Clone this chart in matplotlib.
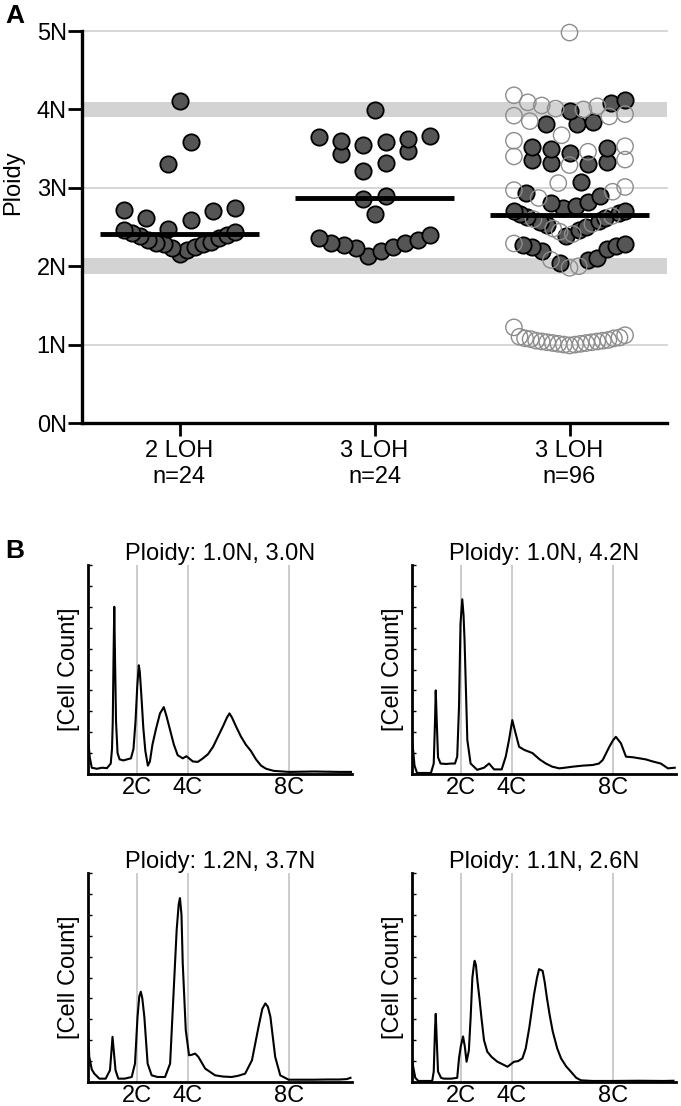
import numpy as np
import matplotlib
matplotlib.use("Agg")
import matplotlib.pyplot as plt

plt.rcParams['font.family'] = ['Liberation Sans', 'DejaVu Sans']

# ---- panel A data (ploidy per clone, grouped in rows of similar value) ----
categories = ['2 LOH\nn=24', '3 LOH\nn=24', '3 LOH\nn=96']
ytick_labels = ['0N', '1N', '2N', '3N', '4N', '5N']

loh2_rows = [
    [2.15, 2.21, 2.23, 2.25, 2.28, 2.28, 2.29, 2.31, 2.33, 2.36, 2.38, 2.40, 2.42, 2.44, 2.46],
    [2.48, 2.59, 2.62, 2.70, 2.72, 2.74],
    [3.30, 3.58],
    [4.11],
]
loh3_rows = [
    [2.13, 2.19, 2.23, 2.25, 2.27, 2.29, 2.30, 2.33, 2.36, 2.40],
    [2.67],
    [2.86, 2.89],
    [3.21, 3.31, 3.43, 3.47],
    [3.55, 3.59, 3.60, 3.62, 3.65, 3.66],
    [3.99],
]
# third group: filled and open symbols, same row order
loh3b_filled_rows = [
    [],
    [2.04, 2.08, 2.10, 2.19, 2.22, 2.24, 2.26, 2.27, 2.28],
    [2.38, 2.46, 2.50, 2.52, 2.56, 2.58, 2.61, 2.63, 2.66, 2.68, 2.70, 2.71],
    [2.74, 2.77, 2.80, 2.82, 2.90, 2.93],
    [3.07],
    [3.30, 3.32, 3.33, 3.36],
    [3.44, 3.50, 3.51, 3.52],
    [3.82, 3.82, 3.84],
    [3.98, 4.08, 4.12],
    [],
]
loh3b_open_rows = [
    [0.99, 1.00, 1.00, 1.01, 1.01, 1.02, 1.02, 1.03, 1.03, 1.04, 1.04,
     1.05, 1.05, 1.06, 1.07, 1.08, 1.08, 1.09, 1.10, 1.12, 1.22],
    [1.98, 2.00, 2.08, 2.29],
    [2.41, 2.44, 2.48, 2.54, 2.60, 2.64],
    [2.87, 2.95, 2.97, 3.01],
    [3.06],
    [3.29, 3.36, 3.40],
    [3.46, 3.53, 3.60],
    [3.67, 3.85, 3.91, 3.92, 3.94],
    [4.00, 4.01, 4.04, 4.05, 4.09, 4.18],
    [4.98],
]

# ---- panel B data (DNA content in C units vs relative cell count) ----
hist_titles = ['Ploidy: 1.0N, 3.0N', 'Ploidy: 1.0N, 4.2N',
               'Ploidy: 1.2N, 3.7N', 'Ploidy: 1.1N, 2.6N']
c_marks = [2, 4, 8]
c_labels = ['2C', '4C', '8C']

tl_c = [0.06, 0.12, 0.2, 0.4, 0.6, 0.8, 0.95, 1.0, 1.03, 1.06, 1.09, 1.12, 1.16, 1.22, 1.3,
        1.45, 1.6, 1.75, 1.85, 1.93, 2.0, 2.06, 2.1, 2.16, 2.24, 2.32, 2.42, 2.5, 2.6,
        2.75, 2.9, 3.0, 3.05, 3.15, 3.3, 3.45, 3.6, 3.8, 3.95, 4.05, 4.2, 4.4, 4.6, 4.8,
        5.0, 5.2, 5.4, 5.55, 5.65, 5.75, 5.9, 6.1, 6.3, 6.5, 6.7, 6.9, 7.1, 7.4, 8.0,
        9.0, 10.0, 10.5]
tl_y = [0.16, 0.08, 0.03, 0.025, 0.03, 0.028, 0.05, 0.12, 0.25, 0.55, 0.80, 0.55, 0.25, 0.10,
        0.07, 0.065, 0.07, 0.075, 0.12, 0.25, 0.42, 0.52, 0.49, 0.38, 0.22, 0.11, 0.04,
        0.06, 0.14, 0.22, 0.29, 0.31, 0.32, 0.28, 0.21, 0.14, 0.09, 0.075, 0.085, 0.075,
        0.06, 0.058, 0.075, 0.095, 0.13, 0.18, 0.23, 0.27, 0.29, 0.27, 0.23, 0.18, 0.14,
        0.11, 0.07, 0.04, 0.025, 0.015, 0.01, 0.012, 0.01, 0.01]

tr_c = [0.06, 0.15, 0.25, 0.5, 0.8, 0.91, 0.96, 0.99, 1.03, 1.08, 1.18, 1.4, 1.6, 1.75,
        1.84, 1.91, 1.97, 2.04, 2.09, 2.13, 2.24, 2.37, 2.63, 2.9, 3.1, 3.3, 3.6, 3.76,
        3.89, 4.02, 4.15, 4.29, 4.5, 4.82, 5.1, 5.35, 5.6, 5.88, 6.1, 6.41, 6.8, 7.2,
        7.45, 7.6, 7.86, 8.0, 8.12, 8.32, 8.52, 8.8, 9.05, 9.3, 9.58, 9.9, 10.18, 10.45]
tr_y = [0.16, 0.04, 0.005, 0.005, 0.005, 0.05, 0.25, 0.40, 0.25, 0.08, 0.05, 0.048, 0.05,
        0.05, 0.083, 0.32, 0.72, 0.836, 0.76, 0.64, 0.163, 0.05, 0.02, 0.03, 0.05, 0.022,
        0.022, 0.083, 0.163, 0.258, 0.195, 0.13, 0.115, 0.1, 0.07, 0.05, 0.035, 0.027,
        0.03, 0.035, 0.04, 0.043, 0.05, 0.067, 0.13, 0.16, 0.178, 0.147, 0.083, 0.08,
        0.075, 0.07, 0.06, 0.05, 0.027, 0.03]

bl_c = [0.06, 0.1, 0.2, 0.3, 0.5, 0.75, 0.92, 0.98, 1.02, 1.07, 1.14, 1.25, 1.5, 1.78,
        1.91, 2.01, 2.08, 2.14, 2.2, 2.28, 2.41, 2.57, 2.8, 3.1, 3.3, 3.43, 3.56, 3.64,
        3.69, 3.75, 3.8, 3.92, 4.05, 4.15, 4.29, 4.42, 4.69, 5.08, 5.4, 5.74, 6.0, 6.27,
        6.54, 6.8, 6.95, 7.07, 7.17, 7.27, 7.46, 7.66, 7.99, 8.5, 9.0, 9.5, 10.0, 10.3, 10.44]
bl_y = [0.232, 0.12, 0.06, 0.04, 0.016, 0.016, 0.056, 0.15, 0.216, 0.15, 0.056, 0.016,
        0.016, 0.024, 0.088, 0.312, 0.41, 0.432, 0.40, 0.312, 0.088, 0.032, 0.024, 0.024,
        0.088, 0.408, 0.728, 0.85, 0.88, 0.80, 0.568, 0.248, 0.128, 0.13, 0.136, 0.12,
        0.064, 0.032, 0.026, 0.024, 0.03, 0.04, 0.104, 0.264, 0.35, 0.376, 0.36, 0.312,
        0.12, 0.032, 0.011, 0.011, 0.011, 0.012, 0.012, 0.014, 0.02]

br_c = [0.06, 0.18, 0.3, 0.6, 0.85, 0.91, 0.96, 0.99, 1.03, 1.08, 1.2, 1.31, 1.6, 1.84,
        1.91, 1.98, 2.07, 2.14, 2.21, 2.3, 2.37, 2.44, 2.5, 2.53, 2.58, 2.64, 2.72, 2.8,
        2.9, 3.03, 3.2, 3.43, 3.63, 3.83, 4.09, 4.25, 4.42, 4.55, 4.69, 4.88, 5.0, 5.08,
        5.22, 5.3, 5.39, 5.5, 5.62, 5.8, 5.95, 6.15, 6.35, 6.55, 6.74, 7.2, 8.0, 9.0,
        10.0, 10.4]
br_y = [0.097, 0.02, 0.005, 0.005, 0.005, 0.05, 0.25, 0.326, 0.2, 0.05, 0.02, 0.016,
        0.016, 0.02, 0.113, 0.17, 0.218, 0.17, 0.097, 0.15, 0.306, 0.5, 0.56, 0.58, 0.56,
        0.484, 0.4, 0.306, 0.2, 0.145, 0.12, 0.097, 0.085, 0.073, 0.097, 0.1, 0.113, 0.16,
        0.258, 0.419, 0.5, 0.54, 0.532, 0.48, 0.403, 0.32, 0.242, 0.16, 0.113, 0.075,
        0.048, 0.02, 0.008, 0.005, 0.005, 0.006, 0.005, 0.006]


def row_offsets(n, max_width=0.57, step=0.115):
    # prism-like spreading: lowest value in the middle, then right, left, ...
    if n == 1:
        return np.zeros(1)
    s = min(step, max_width / (n - 1))
    k = []
    for i in range(n):
        if i == 0:
            k.append(0)
        elif i % 2 == 1:
            k.append((i + 1) // 2)
        else:
            k.append(-(i // 2))
    k = np.array(k, dtype=float)
    if n % 2 == 0:
        k -= 0.5
    return k * s


def layout(pos, filled_rows, open_rows):
    fx, fy, ox, oy, allv = [], [], [], [], []
    for fr, orow in zip(filled_rows, open_rows):
        vals = [(v, 1) for v in fr] + [(v, 0) for v in orow]
        vals.sort(key=lambda t: t[0])
        offs = row_offsets(len(vals))
        for (v, kind), d in zip(vals, offs):
            allv.append(v)
            if kind:
                fx.append(pos + d)
                fy.append(v)
            else:
                ox.append(pos + d)
                oy.append(v)
    return fx, fy, ox, oy, np.median(allv)


W, H = 681, 1106
fig = plt.figure(figsize=(W / 100, H / 100), dpi=100)

FS = 17
axA = fig.add_axes([82 / W, (H - 423) / H, (667 - 82) / W, (423 - 31) / H])
axA.set_xlim(-0.5, 2.5)
axA.set_ylim(0, 5)
for s in ['top', 'right']:
    axA.spines[s].set_visible(False)
for s in ['left', 'bottom']:
    axA.spines[s].set_linewidth(2.4)
    axA.spines[s].set_zorder(6)

axA.axhspan(3.9, 4.1, color='#d3d3d3', lw=0, zorder=0)
axA.axhspan(1.9, 2.1, color='#d3d3d3', lw=0, zorder=0)
for g in [1, 3, 5]:
    axA.axhline(g, color='#d3d3d3', lw=1.3, zorder=0.5, clip_on=False)

groups = [
    (loh2_rows, [[] for _ in loh2_rows]),
    (loh3_rows, [[] for _ in loh3_rows]),
    (loh3b_filled_rows, loh3b_open_rows),
]
for i, (frows, orows) in enumerate(groups):
    fx, fy, ox, oy, med = layout(i, frows, orows)
    axA.scatter(fx, fy, s=138, facecolor='#555555', edgecolor='black',
                linewidth=1.3, zorder=3, clip_on=False)
    if ox:
        axA.scatter(ox, oy, s=138, facecolor='none', edgecolor='#8c8c8c',
                    linewidth=1.0, zorder=4, clip_on=False)
    axA.hlines(med, i - 0.41, i + 0.41, color='black', lw=3.5, zorder=5)

axA.set_yticks(range(6))
axA.set_yticklabels(ytick_labels)
axA.set_xticks(range(3))
axA.set_xticklabels(categories, linespacing=1.25)
axA.tick_params(axis='y', length=10, width=2, pad=1, labelsize=FS)
axA.tick_params(axis='x', length=9, width=2, pad=3, labelsize=FS)

fig.text(13 / W, 1 - 183 / H, 'Ploidy', rotation=90, ha='center', va='center',
         fontsize=FS)
fig.text(15 / W, 1 - 16 / H, 'A', ha='center', va='center', fontsize=19,
         fontweight='bold')
fig.text(15 / W, 1 - 551 / H, 'B', ha='center', va='center', fontsize=19,
         fontweight='bold')

# ---- panel B ----
hist_data = [(tl_c, tl_y), (tr_c, tr_y), (bl_c, bl_y), (br_c, br_y)]
boxes = [(88, 565), (412, 565), (88, 873), (412, 873)]
for (cx, cy), (left, top), title in zip(hist_data, boxes, hist_titles):
    ax = fig.add_axes([left / W, (H - top - 209) / H, 264 / W, 209 / H])
    ax.set_xlim(0.05, 10.5)
    ax.set_ylim(0, 1)
    for s in ['top', 'right']:
        ax.spines[s].set_visible(False)
    for s in ['left', 'bottom']:
        ax.spines[s].set_linewidth(2.0)
        ax.spines[s].set_zorder(5)
    for m in c_marks:
        ax.axvline(m, color='#c8c8c8', lw=1.3, zorder=0)
    ax.plot(cx, cy, color='black', lw=1.5, zorder=3)
    ax.set_xticks(c_marks)
    ax.set_xticklabels(c_labels)
    ax.set_yticks(np.linspace(0, 1, 11))
    ax.set_yticklabels([])
    ax.tick_params(axis='x', length=0, pad=2, labelsize=FS)
    ax.tick_params(axis='y', direction='in', length=3, width=1)
    ax.set_title(title, fontsize=FS, pad=2)
    ax.set_ylabel('[Cell Count]', fontsize=FS)
    ax.yaxis.set_label_coords(-8 / 264, 0.5)

fig.savefig('out.png', dpi=100)
